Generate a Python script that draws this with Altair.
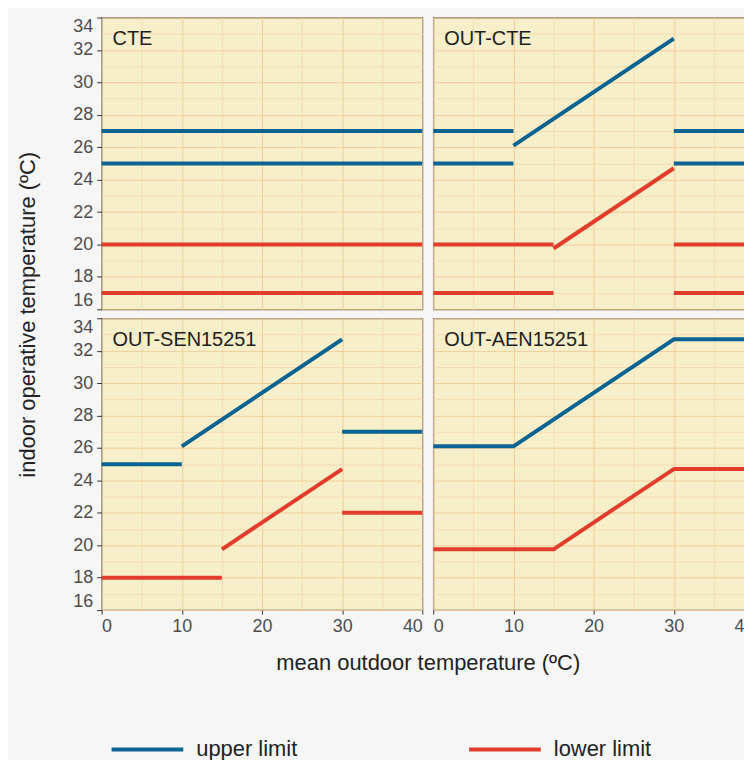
import altair as alt
import pandas as pd

FONT = "Liberation Sans"

PANELS = ["CTE", "OUT-CTE", "OUT-SEN15251", "OUT-AEN15251"]
LIMITS = ["upper limit", "lower limit"]
LIMIT_COLORS = ["#0a6391", "#e23d2c"]

# segments per panel: (limit, x values, y values)
CTE = [
    ("upper limit", [0, 40], [27, 27]),
    ("upper limit", [0, 40], [25, 25]),
    ("lower limit", [0, 40], [20, 20]),
    ("lower limit", [0, 40], [17, 17]),
]
OUT_CTE = [
    ("upper limit", [0, 10], [27, 27]),
    ("upper limit", [0, 10], [25, 25]),
    ("upper limit", [10, 30], [26.1, 32.7]),
    ("upper limit", [30, 40], [27, 27]),
    ("upper limit", [30, 40], [25, 25]),
    ("lower limit", [0, 15], [20, 20]),
    ("lower limit", [0, 15], [17, 17]),
    ("lower limit", [15, 30], [19.75, 24.7]),
    ("lower limit", [30, 40], [20, 20]),
    ("lower limit", [30, 40], [17, 17]),
]
OUT_SEN = [
    ("upper limit", [0, 10], [25, 25]),
    ("upper limit", [10, 30], [26.1, 32.7]),
    ("upper limit", [30, 40], [27, 27]),
    ("lower limit", [0, 15], [18, 18]),
    ("lower limit", [15, 30], [19.75, 24.7]),
    ("lower limit", [30, 40], [22, 22]),
]
OUT_AEN = [
    ("upper limit", [0, 10, 30, 40], [26.1, 26.1, 32.7, 32.7]),
    ("lower limit", [0, 15, 30, 40], [19.75, 19.75, 24.7, 24.7]),
]
SEGMENTS = [CTE, OUT_CTE, OUT_SEN, OUT_AEN]

X_MAJOR = [0, 10, 20, 30, 40]
X_MINOR = [5, 15, 25, 35]
Y_MAJOR = [16, 18, 20, 22, 24, 26, 28, 30, 32, 34]
Y_MINOR = [17, 19, 21, 23, 25, 27, 29, 31, 33]

rows = []
for panel, segs in zip(PANELS, SEGMENTS):
    for i, (lim, xs, ys) in enumerate(segs):
        for j, (xv, yv) in enumerate(zip(xs, ys)):
            rows.append({"panel": panel, "seg": f"{panel}-{i}", "limit": lim,
                         "x": xv, "y": yv, "o": j})
df = pd.DataFrame(rows)

W, H = 322, 293
MAJOR_GRID = "#f3cc9a"
MINOR_GRID = "#f5dcb2"

xscale = alt.Scale(domain=[0, 40], nice=False, zero=False)
yscale = alt.Scale(domain=[16, 34], nice=False, zero=False)

legend = alt.Legend(
    orient="none", legendX=8, legendY=697, direction="horizontal",
    title=None, symbolType="stroke", symbolSize=5184, symbolStrokeWidth=3.8,
    labelFontSize=22, labelFont=FONT, labelColor="#222222", labelOffset=11,
    columnPadding=164,
)


def make_panel(idx, show_x, show_y, x_title=False, y_title=False):
    name = PANELS[idx]
    data = df[df.panel == name]
    minor = alt.Chart(data).mark_line(opacity=0).encode(
        x=alt.X("x:Q", scale=xscale, title=None,
                axis=alt.Axis(values=X_MINOR, grid=True, gridColor=MINOR_GRID,
                              gridWidth=1, labels=False, ticks=False,
                              domain=False, orient="bottom")),
        y=alt.Y("y:Q", scale=yscale, title=None,
                axis=alt.Axis(values=Y_MINOR, grid=True, gridColor=MINOR_GRID,
                              gridWidth=1, labels=False, ticks=False,
                              domain=False, orient="left")),
        detail="seg:N",
    )
    xaxis_kw = dict(values=X_MAJOR, grid=True, gridColor=MAJOR_GRID, gridWidth=1,
                    domain=False, orient="bottom", labels=show_x, ticks=show_x,
                    tickSize=4, tickColor="#333333", tickWidth=1,
                    labelFlush=True, labelFontSize=18, labelFont=FONT,
                    labelColor="#4d4d4d", labelPadding=4)
    yaxis_kw = dict(values=Y_MAJOR, grid=True, gridColor=MAJOR_GRID, gridWidth=1,
                    domain=False, orient="left", labels=show_y, ticks=show_y,
                    tickSize=5, tickColor="#333333", tickWidth=1,
                    labelFlush=True, labelFontSize=18, labelFont=FONT,
                    labelColor="#4d4d4d", labelPadding=4)
    if x_title:
        xaxis_kw.update(title="mean outdoor temperature (ºC)", titleX=327.5,
                        titleY=43, titleBaseline="top", titleAlign="center",
                        titleFontSize=22, titleFont=FONT, titleFontWeight="normal",
                        titleColor="#222222")
        xenc = alt.X("x:Q", scale=xscale, axis=alt.Axis(**xaxis_kw))
    else:
        xenc = alt.X("x:Q", scale=xscale, title=None, axis=alt.Axis(**xaxis_kw))
    if y_title:
        yaxis_kw.update(title="indoor operative temperature (ºC)", titleX=-62,
                        titleY=-4, titleAngle=270, titleBaseline="bottom",
                        titleAlign="center", titleFontSize=22, titleFont=FONT,
                        titleFontWeight="normal", titleColor="#222222")
        yenc = alt.Y("y:Q", scale=yscale, axis=alt.Axis(**yaxis_kw))
    else:
        yenc = alt.Y("y:Q", scale=yscale, title=None, axis=alt.Axis(**yaxis_kw))
    lines = alt.Chart(data).mark_line(strokeWidth=4, strokeCap="butt",
                                      strokeJoin="round").encode(
        x=xenc, y=yenc,
        color=alt.Color("limit:N",
                        scale=alt.Scale(domain=LIMITS, range=LIMIT_COLORS),
                        legend=legend),
        detail="seg:N",
        order="o:Q",
    )
    label = alt.Chart(pd.DataFrame({"label": [name]})).mark_text(
        align="left", baseline="top", fontSize=20, font=FONT, color="#1e1e1e"
    ).encode(x=alt.value(11), y=alt.value(12), text="label:N")
    return (alt.layer(minor, lines, label)
            .resolve_axis(x="independent", y="independent")
            .properties(width=W, height=H))


p1 = make_panel(0, False, True)
p2 = make_panel(1, False, False)
p3 = make_panel(2, True, True, x_title=True, y_title=True)
p4 = make_panel(3, True, False)

chart = alt.concat(p1, p2, p3, p4, columns=2,
                   spacing={"row": 9, "column": 11}, bounds="flush").properties(
    background="#f6f6f6",
    padding={"left": 8, "top": 6, "right": -13, "bottom": -2},
).configure_view(
    fill="#f7efc9", stroke="#4a4a4a", strokeWidth=1.2
)

chart.save("out.html", embed_options={"renderer": "svg", "actions": False})
